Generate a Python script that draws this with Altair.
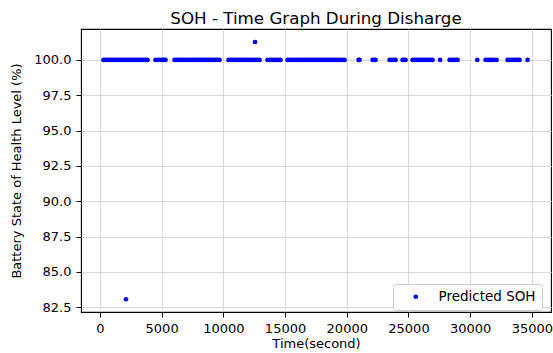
import altair as alt
import pandas as pd

# Time (s) of predictions that sit at 100.0 %
time_at_100 = [
    290, 450, 610, 790, 930, 1100, 1260, 1420, 1590, 1750, 1900, 2080, 2240, 2400,
    2570, 2720, 2880, 3050, 3200, 3370, 3530, 3700, 3857,
    4506, 4690, 4860, 5020, 5180, 5316,
    6045, 6210, 6380, 6540, 6700, 6880, 7040, 7210, 7360, 7530, 7700, 7860, 8020,
    8190, 8350, 8520, 8690, 8840, 9010, 9180, 9340, 9510, 9692,
    10421, 10590, 10760, 10920, 11090, 11250, 11420, 11590, 11750, 11910, 12080,
    12250, 12420, 12600, 12760, 12934,
    13582, 13750, 13920, 14090, 14260, 14450, 14635,
    15203, 15370, 15540, 15700, 15870, 16040, 16210, 16380, 16550, 16720, 16890,
    17060, 17230, 17400, 17570, 17740, 17900, 18070, 18240, 18410, 18580, 18750,
    18920, 19090, 19260, 19440, 19630, 19822,
    20960, 21040,
    22091, 22200, 22334,
    23468, 23630, 23800, 23955,
    24522, 24650, 24765,
    25332, 25500, 25660, 25830, 26000, 26170, 26330, 26500, 26660, 26810, 26953,
    27560,
    28330, 28500, 28660, 28820, 28979,
    30575,
    31248, 31420, 31580, 31750, 31920, 32139,
    33031, 33200, 33370, 33540, 33700, 33860, 34003,
    34652,
]
soh_at_100 = [100.0] * len(time_at_100)

# Off-level predictions
time_other = [2115, 12569]
soh_other = [83.07, 101.27]

x_ticks = [0, 5000, 10000, 15000, 20000, 25000, 30000, 35000]
y_ticks = [82.5, 85.0, 87.5, 90.0, 92.5, 95.0, 97.5, 100.0]

df = pd.DataFrame({
    "time": time_at_100 + time_other,
    "soh": soh_at_100 + soh_other,
})
df["series"] = "Predicted SOH"

FONT = "DejaVu Sans"

chart = alt.Chart(df).mark_circle(size=22, opacity=1).encode(
    x=alt.X("time:Q",
            scale=alt.Scale(domain=[-1532, 36548], nice=False, zero=False),
            axis=alt.Axis(values=x_ticks, format="d", title="Time(second)")),
    y=alt.Y("soh:Q",
            scale=alt.Scale(domain=[82.17, 102.19], nice=False, zero=False),
            axis=alt.Axis(values=y_ticks, format=".1f",
                          title="Battery State of Health Level (%)")),
    color=alt.Color("series:N",
                    scale=alt.Scale(range=["#0000ff"]),
                    legend=alt.Legend(title=None, orient="none",
                                      legendX=312, legendY=255,
                                      fillColor="white", strokeColor="#cccccc",
                                      cornerRadius=3, padding=6,
                                      symbolSize=22, symbolOffset=10,
                                      labelOffset=16, labelFontSize=13.5,
                                      labelFont=FONT, labelColor="black",
                                      symbolType="circle")),
).properties(
    width=470,
    height=283,
    title=alt.TitleParams("SOH - Time Graph During Disharge", fontSize=16.7,
                          font=FONT, fontWeight="normal", color="black",
                          anchor="middle", baseline="alphabetic", offset=-12),
    autosize=alt.AutoSizeParams(type="none"),
    padding={"left": 81, "top": 29, "right": 2, "bottom": 41},
).configure_view(
    stroke="black", strokeWidth=1.1
).configure_axis(
    domain=False,
    grid=True, gridColor="#d8d8d8", gridWidth=1,
    ticks=True, tickColor="black", tickSize=5, tickWidth=1,
    labelFont=FONT, labelFontSize=13, labelColor="black", labelPadding=5,
    titleFont=FONT, titleFontSize=13, titleColor="black", titleFontWeight="normal",
).configure_axisX(
    titlePadding=2
).configure_axisY(
    titlePadding=10
)

chart.save("out.html", embed_options={"renderer": "svg", "actions": False})
